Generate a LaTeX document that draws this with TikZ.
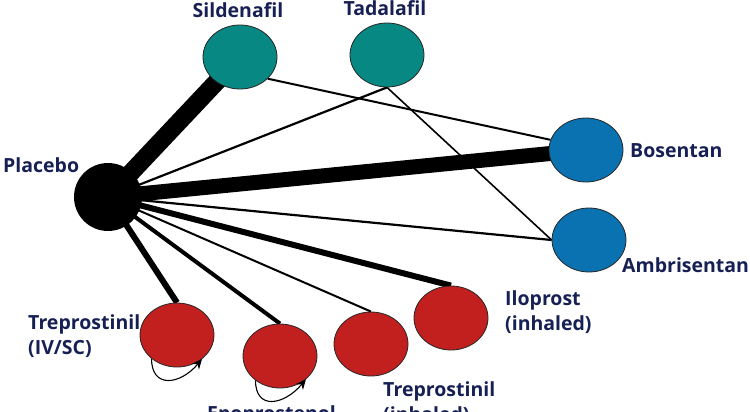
\documentclass[tikz,border=0pt]{standalone}
\usepackage{fontspec}
\setmainfont{Open Sans}
\usetikzlibrary{shapes.geometric,arrows.meta,backgrounds}
\definecolor{teal1}{RGB}{8,136,130}
\definecolor{blue1}{RGB}{10,114,176}
\definecolor{red1}{RGB}{193,32,31}
\definecolor{navy1}{RGB}{22,32,84}
\tikzset{
  drug/.style={ellipse,draw=black!85,line width=0.8pt,minimum width=74pt,minimum height=64pt,inner sep=0pt},
  pde/.style={drug,fill=teal1},
  era/.style={drug,fill=blue1},
  pro/.style={drug,fill=red1},
  lbl/.style={text=navy1,font=\fontsize{19.5}{25}\selectfont\bfseries,inner sep=0pt,align=left},
  edge/.style={draw=black,line cap=butt},
  selfloop/.style={draw=black,line width=1.1pt,-{Stealth[length=10pt,width=9pt]}}
}
\begin{document}
\begin{tikzpicture}[x=1pt,y=-1pt]
\useasboundingbox (0,0) rectangle (750,412);
\clip (0,0) rectangle (750,412);
\node[circle,fill=black,minimum size=68pt,inner sep=0pt] (pla) at (108,197) {};
\node[pde] (sil) at (240,57) {};
\node[pde] (tad) at (387,55) {};
\node[era] (bos) at (586,150) {};
\node[era] (amb) at (589,240) {};
\node[pro] (tiv) at (177,335) {};
\node[pro] (epo) at (280,356) {};
\node[pro] (tin) at (371,344) {};
\node[pro] (ilo) at (451,318) {};
\begin{scope}[on background layer]
  \draw[edge,line width=18pt] (pla.center) -- (sil.center);
  \draw[edge,line width=15pt] (pla.center) -- (bos.center);
  \draw[edge,line width=2.2pt] (pla.center) -- (tad.south);
  \draw[edge,line width=2.2pt] (pla.center) -- (amb.west);
  \draw[edge,line width=6pt] (pla.center) -- (tiv.north);
  \draw[edge,line width=4pt] (pla.center) -- (epo.north);
  \draw[edge,line width=2pt] (pla.center) -- (tin.north);
  \draw[edge,line width=6pt] (pla.center) -- (ilo.north);
  \draw[edge,line width=2pt] (sil.-38) -- (bos.164);
  \draw[edge,line width=1.6pt] (tad.south) -- (amb.west);
\end{scope}
\draw[selfloop] (tiv.-137) .. controls +(0,30) and +(-22,26) .. (tiv.-44);
\draw[selfloop] (epo.-135) .. controls +(0,30) and +(-22,26) .. (epo.-42);
\node[lbl,anchor=base west] (lpla) at (3,172) {Placebo};
\node[lbl,anchor=base] (lsil) at (238,18) {Sildenafil};
\node[lbl,anchor=base] (ltad) at (385,16) {Tadalafil};
\node[lbl,anchor=base west] (lbos) at (630,157) {Bosentan};
\node[lbl,anchor=base west] (lamb) at (622,272) {Ambrisentan};
\node[lbl,anchor=base west] (ltiv) at (28,354) {Treprostinil\\(IV/SC)};
\node[lbl,anchor=base west] (lilo) at (505,330) {Iloprost\\(inhaled)};
\node[lbl,anchor=base west] (ltin) at (383,421) {Treprostinil\\(inhaled)};
\node[lbl,anchor=base west] (lepo) at (207,420) {Epoprostenol};
\end{tikzpicture}
\end{document}
